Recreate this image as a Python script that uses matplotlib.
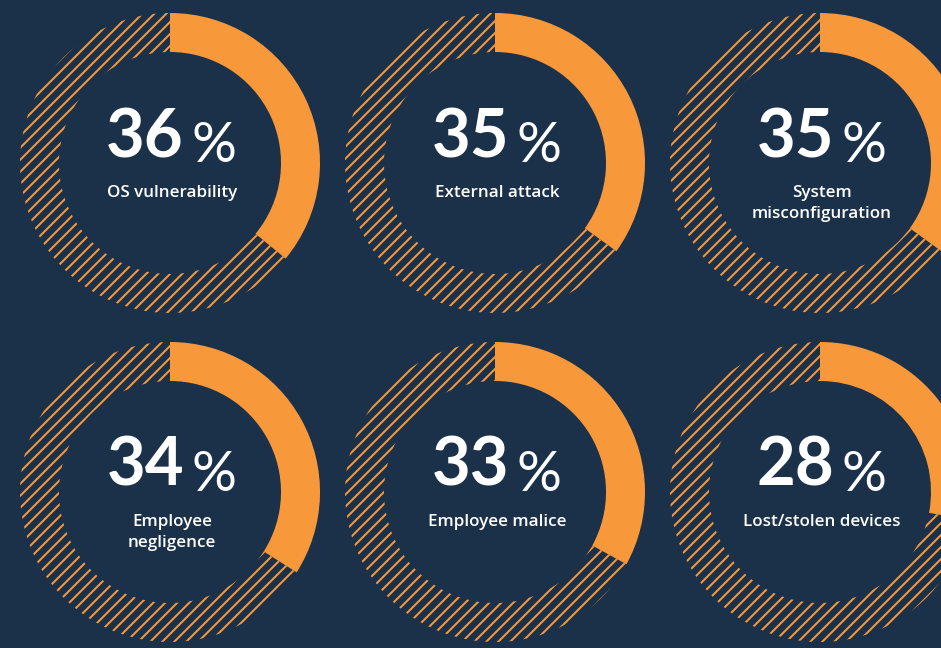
import matplotlib
matplotlib.use('Agg')
import matplotlib.pyplot as plt
from matplotlib.patches import Wedge

# data
values = [36, 35, 35, 34, 33, 28]
labels = ['OS vulnerability', 'External attack', 'System\nmisconfiguration',
          'Employee\nnegligence', 'Employee malice', 'Lost/stolen devices']

bg = '#1b3049'
orange = '#f7993b'

# grid of donuts (pixel layout, dpi 72 so 1pt = 1px)
col_x = [170, 495, 820]
row_y = [163, 492]
R, W = 150, 39

plt.rcParams['hatch.linewidth'] = 2.0
plt.rcParams['hatch.color'] = orange

fig = plt.figure(figsize=(941 / 72, 648 / 72), dpi=72, facecolor=bg)
ax = fig.add_axes([0, 0, 1, 1])
ax.set_facecolor(bg)
ax.set_xlim(0, 941)
ax.set_ylim(648, 0)
ax.set_aspect('equal')
ax.axis('off')

for i, (v, lab) in enumerate(zip(values, labels)):
    cx = col_x[i % 3]
    cy = row_y[i // 3]
    # y axis is inverted, so angles are mirrored: clockwise from top on screen
    start = 270
    end = 270 + v * 3.6
    ax.add_patch(Wedge((cx, cy), R, start, end, width=W,
                       facecolor=orange, edgecolor='none', lw=0))
    ax.add_patch(Wedge((cx, cy), R, end, start + 360, width=W,
                       facecolor='none', edgecolor=orange, lw=0, hatch='//'))

    ax.text(cx + 14, cy - 6, str(v), ha='right', va='baseline',
            fontsize=67, fontweight='bold', family='Lato', color='white')
    ax.text(cx + 22, cy - 1, '%', ha='left', va='baseline',
            fontsize=56, fontweight='normal', family='Lato', color='white')

    for j, line in enumerate(lab.split('\n')):
        ax.text(cx + 2, cy + 34 + j * 21, line, ha='center', va='baseline',
                fontsize=17, fontweight='semibold', family='Open Sans',
                color='white')

fig.savefig('out.png', dpi=72, facecolor=bg)
